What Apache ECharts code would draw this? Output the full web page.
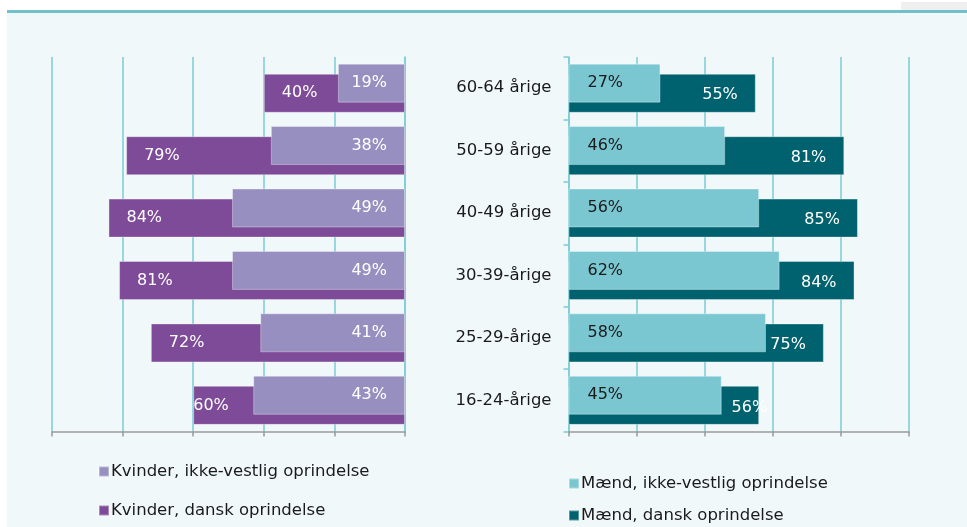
<!DOCTYPE html>
<html>
<head>
<meta charset="utf-8">
<script src="https://cdn.jsdelivr.net/npm/echarts@6/dist/echarts.min.js"></script>
<style>
  html, body { margin: 0; padding: 0; background: #fff; }
  #chart { width: 967px; height: 527px; }
</style>
</head>
<body>
<div id="chart"></div>
<script>
// age groups, top to bottom
const ageGroups = ['60-64 årige', '50-59 årige', '40-49 årige', '30-39-årige', '25-29-årige', '16-24-årige'];
const womenNonWestern = [19, 38, 49, 49, 41, 43];
const womenDanish = [40, 79, 84, 81, 72, 60];
const menNonWestern = [27, 46, 56, 62, 58, 45];
const menDanish = [55, 81, 85, 84, 75, 56];
const legendNames = [
  'Kvinder, ikke-vestlig oprindelse',
  'Kvinder, dansk oprindelse',
  'Mænd, ikke-vestlig oprindelse',
  'Mænd, dansk oprindelse'
];

const FONT = 'DejaVu Sans';
const GRID_COLOR = '#7ccbd5';
const BG = '#f1f8fa';

const myChart = echarts.init(document.getElementById('chart'));

function valueAxis(gridIndex, inverse) {
  return {
    type: 'value',
    gridIndex: gridIndex,
    inverse: inverse,
    min: 0,
    max: 100,
    interval: 20,
    axisLabel: { show: false },
    axisLine: { show: true, lineStyle: { color: '#9a9a9a', width: 1.5 } },
    axisTick: { show: true, length: 5, lineStyle: { color: '#9a9a9a', width: 1.5 } },
    splitLine: { show: true, lineStyle: { color: GRID_COLOR, width: 1.5 } }
  };
}

// one legend per entry so each can sit where the original put it
function legendItem(name, left, top) {
  return {
    data: [name],
    left: left,
    top: top,
    itemWidth: 10,
    itemHeight: 10,
    icon: 'rect',
    padding: 0,
    selectedMode: false,
    textStyle: { fontFamily: FONT, fontSize: 16.5, color: '#1a1a1a', padding: [0, 0, 0, -3] }
  };
}

function barSeries(name, values, axisIdx, color, z, label, overrides) {
  return {
    name: name,
    type: 'bar',
    xAxisIndex: axisIdx,
    yAxisIndex: axisIdx,
    barWidth: 39,
    barGap: '-74%',
    z: z,
    itemStyle: { color: color, borderColor: 'rgba(255,255,255,0.35)', borderWidth: 1 },
    label: Object.assign({
      show: true,
      formatter: '{c}%',
      fontFamily: FONT,
      fontSize: 16
    }, label),
    data: values.map((v, i) => overrides && overrides[i] ? { value: v, label: overrides[i] } : v)
  };
}

const option = {
  animation: false,
  textStyle: { fontFamily: FONT },
  graphic: [
    { type: 'rect', shape: { x: 7, y: 12, width: 960, height: 515 }, style: { fill: BG }, z: -10 },
    { type: 'rect', shape: { x: 7, y: 10, width: 960, height: 3 }, style: { fill: '#72c0c8' }, z: -9 },
    { type: 'rect', shape: { x: 901, y: 2, width: 66, height: 8 }, style: { fill: '#efefef' }, z: -9 }
  ],
  grid: [
    { left: 52, right: 562, top: 57, bottom: 95.5 },
    { left: 568.5, right: 58, top: 57, bottom: 95.5 }
  ],
  legend: [
    legendItem(legendNames[0], 98, 463),
    legendItem(legendNames[1], 98, 502),
    legendItem(legendNames[2], 568, 475),
    legendItem(legendNames[3], 568, 507)
  ],
  xAxis: [valueAxis(0, true), valueAxis(1, false)],
  yAxis: [
    {
      type: 'category',
      gridIndex: 0,
      data: ageGroups,
      inverse: true,
      position: 'right',
      axisLabel: { show: false },
      axisTick: { show: false },
      axisLine: { show: true, lineStyle: { color: GRID_COLOR, width: 1.5 } }
    },
    {
      type: 'category',
      gridIndex: 1,
      data: ageGroups,
      inverse: true,
      axisLabel: { fontFamily: FONT, fontSize: 16.5, color: '#1a1a1a', margin: 17 },
      axisTick: { show: true, length: 5, lineStyle: { color: GRID_COLOR, width: 1.5 } },
      axisLine: { show: true, lineStyle: { color: GRID_COLOR, width: 1.5 } }
    }
  ],
  series: [
    barSeries(legendNames[0], womenNonWestern, 0, '#978fbf', 3,
      { position: 'insideRight', distance: 18, color: '#fff' }),
    barSeries(legendNames[1], womenDanish, 0, '#7e4b99', 2,
      { position: 'insideLeft', distance: 18, color: '#fff' },
      { 5: { distance: 0 } }),
    barSeries(legendNames[2], menNonWestern, 1, '#7ac7d2', 3,
      { position: 'insideLeft', distance: 19, color: '#1a1a1a' }),
    barSeries(legendNames[3], menDanish, 1, '#00626e', 2,
      { position: 'insideRight', distance: 18, color: '#fff', offset: [0, 2] },
      { 5: { offset: [26, 2] } })
  ]
};

myChart.setOption(option);
</script>
</body>
</html>
